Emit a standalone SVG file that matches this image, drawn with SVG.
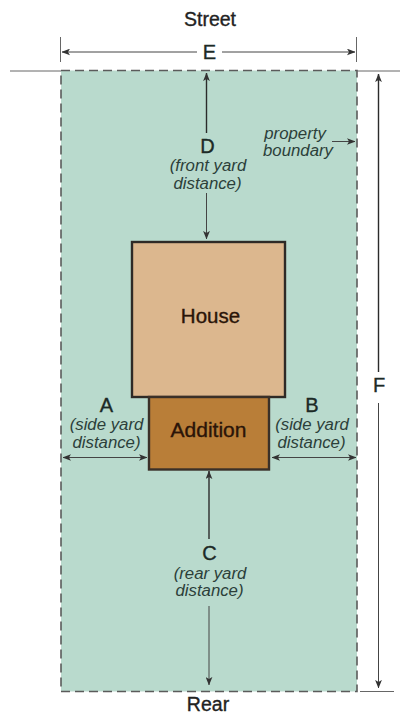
<svg xmlns="http://www.w3.org/2000/svg" width="400" height="714" viewBox="0 0 400 714">
<style>
text{font-family:"Liberation Sans",Arial,sans-serif;text-anchor:middle}
.t{font-size:19.500px;fill:#222;stroke:#222;stroke-width:.35}
.l{font-size:20px;fill:#1c2a26;stroke:#1c2a26;stroke-width:.35}
.i{font-size:16.800px;font-style:italic;fill:#2c3f3a}
.n{font-size:20.500px;fill:#2a1408;stroke:#2a1408;stroke-width:.35}
.a{font-size:21px}
.c{fill:none;stroke:#444;stroke-width:1;marker-end:url(#a)}
.d{stroke:#2b2b2b;stroke-width:1.400}
.g{stroke:#666;stroke-width:1;fill:none}
</style>
<defs>
<marker id="a" viewBox="0 0 10 8" refX="9.500" refY="4" markerUnits="userSpaceOnUse" markerWidth="8.500" markerHeight="7" orient="auto"><path d="M0 0L10 4L0 8L2.500 4Z" fill="#333"/></marker>
</defs>
<g id="lot"><rect x="61" y="70.500" width="296" height="621" fill="#b9dacd"/>
<rect x="61" y="70.500" width="296" height="621" fill="none" stroke="#5b5b5b" stroke-width="1.600" stroke-dasharray="9 5"/></g>
<g id="guides">
<path class="g" d="M10 71H61M357 71H400M360 691.500H394M60.500 37V62M356.500 37V62"/>
</g>
<g id="house"><rect x="132" y="242" width="153" height="155" fill="#dcb78e" stroke="#2e2a26" stroke-width="2.400"/><text class="n" x="210.500" y="322.500">House</text></g>
<g id="addition"><rect x="149" y="397" width="120" height="72.500" fill="#b97e38" stroke="#3a3028" stroke-width="2.400"/><text class="n a" x="208.500" y="437">Addition</text></g>
<g id="connectors">
<path class="c" d="M197 52H62"/><path class="c" d="M222 52H355"/>
<path class="c d" d="M206.500 133V73"/><path class="c" d="M206.500 193V239"/>
<path class="c" d="M332 141.500H355"/>
<path class="c" d="M105 457.500H63"/><path class="c" d="M105 457.500H147"/>
<path class="c" d="M310 457.500H272"/><path class="c" d="M310 457.500H356"/>
<path class="c d" d="M209 539V471"/><path class="c" d="M209 606V685"/>
<path class="c d" d="M378.500 372V74"/><path class="c" d="M378.500 403V688"/>
</g>
<g id="labels">
<text class="t" x="210" y="26">Street</text>
<text class="l" x="209.500" y="59">E</text>
<text class="l" x="207.500" y="153">D</text>
<text class="i" x="208" y="171">(front yard</text><text class="i" x="207.500" y="188.500">distance)</text>
<text class="i" x="295" y="138.500">property</text><text class="i" x="298" y="156">boundary</text>
<text class="l" x="106.500" y="412">A</text>
<text class="i" x="106.500" y="430">(side yard</text><text class="i" x="106.500" y="447.500">distance)</text>
<text class="l" x="312" y="412">B</text>
<text class="i" x="312" y="430">(side yard</text><text class="i" x="311.500" y="447.500">distance)</text>
<text class="l" x="209.500" y="560">C</text>
<text class="i" x="210" y="578.500">(rear yard</text><text class="i" x="209.500" y="596">distance)</text>
<text class="l" x="379" y="392">F</text>
<text class="t" x="208" y="711">Rear</text>
</g>
</svg>
